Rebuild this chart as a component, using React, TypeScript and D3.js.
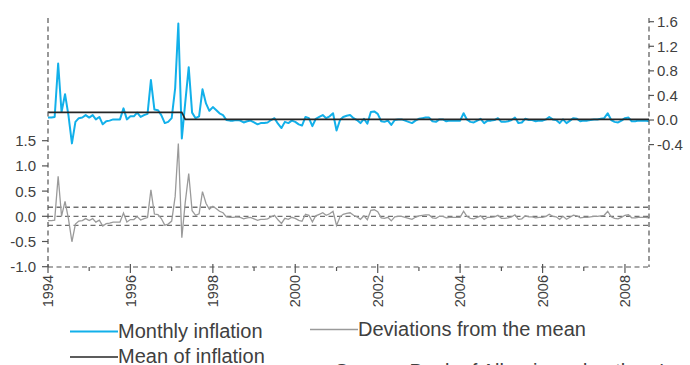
import React from "react";
import * as d3 from "d3";

// Monthly inflation (%), Jan 1994 onward (right axis)
const monthlyInflation: number[] = [
  0.04, 0.04, 0.05, 0.92, 0.13, 0.42, 0.08, -0.38, -0.03, 0.03,
  0.04, 0.08, 0.04, 0.08, 0.01, 0.05, -0.07, -0.02, -0.01, 0.01,
  0.01, 0.01, 0.19, 0.01, 0.06, 0.06, 0.12, 0.05, 0.08, 0.1,
  0.65, 0.17, 0.16, 0.08, -0.05, -0.03, 0.03, 0.52, 1.57, -0.3,
  0.28, 0.86, 0.12, 0.03, 0.06, 0.5, 0.27, 0.15, 0.21, 0.16,
  0.11, 0.08, 0.0, -0.01, -0.01, 0.0, -0.01, -0.04, -0.02, -0.01,
  -0.04, -0.07, -0.05, -0.05, -0.04, 0.0, 0.03, -0.06, -0.13, -0.03,
  -0.05, -0.01, -0.03, -0.07, -0.09, 0.05, 0.03, -0.1, 0.02, 0.05,
  0.08, 0.03, 0.06, 0.11, -0.17, 0.0, 0.05, 0.07, 0.08, 0.03,
  0.0, -0.05, 0.02, -0.06, 0.13, 0.14, 0.1, -0.02, -0.03, -0.01,
  -0.08, 0.0, 0.01, 0.01, -0.01, -0.03, -0.05, -0.01, 0.02, 0.03,
  0.04, 0.04, -0.02, -0.03, 0.01, 0.01, -0.02, -0.01, -0.01, -0.01,
  -0.01, 0.11, 0.01, -0.03, -0.04, -0.01, 0.02, -0.05, -0.01, -0.01,
  0.0, 0.03, -0.03, -0.03, -0.02, 0.0, 0.04, -0.05, -0.04, 0.02,
  0.0, 0.0, -0.02, -0.01, -0.01, 0.01, 0.05, 0.01, 0.0, -0.05,
  0.01, -0.05, -0.01, 0.03, 0.02, -0.02, -0.01, -0.01, 0.0, 0.01,
  0.01, 0.02, 0.03, 0.11, 0.0, -0.03, -0.04, -0.01, 0.03, 0.04,
  -0.02, -0.02, -0.01, -0.01, -0.01, -0.02,
];

// Mean of inflation: two regimes (before / after the break month)
const meanLevels: number[] = [0.125, 0.01];
const meanBreakMonth = 40; // index of first month of the second regime

// Dashed reference levels on the deviations panel (left axis)
const deviationBandLevels: number[] = [-0.18, 0, 0.18];

const leftTicks: number[] = [-1, -0.5, 0, 0.5, 1, 1.5];
const rightTicks: number[] = [-0.4, 0, 0.4, 0.8, 1.2, 1.6];
const yearTicks: number[] = [1994, 1996, 1998, 2000, 2002, 2004, 2006, 2008];
const minorYearTicks: number[] = [1995, 1997, 1999, 2001, 2003, 2005, 2007];

const legendItems = [
  { label: "Monthly inflation", key: "infl" },
  { label: "Deviations from the mean", key: "dev" },
  { label: "Mean of inflation", key: "mean" },
];
const sourceNote = "Source: Bank of Albania and authors' calculations";

const BLUE = "#12b0ea";
const GRAY = "#9a9a9a";
const BLACK = "#262626";
const AXIS = "#555";
const TEXT = "#404040";
const FONT = "'Liberation Sans', Arial, sans-serif";

const fmt = (v: number) => d3.format(".1f")(v).replace("\u2212", "-");

export default function App() {
  const W = 690;
  const H = 365;
  const x0 = 48;
  const x1 = 649;
  const yTop = 18;
  const yBottom = 267;

  const dates = monthlyInflation.map((_, i) => new Date(1994, i, 1));
  const meanSeries = monthlyInflation.map((_, i) =>
    i < meanBreakMonth ? meanLevels[0] : meanLevels[1]
  );
  const deviations = monthlyInflation.map((v, i) => v - meanSeries[i]);

  const x = d3
    .scaleTime()
    .domain([new Date(1994, 0, 1), new Date(1994, monthlyInflation.length - 1, 1)])
    .range([x0, x1]);
  const yLeft = d3.scaleLinear().domain([-1, 1.5]).range([266.7, 140.7]);
  const yRight = d3.scaleLinear().domain([-0.4, 1.6]).range([144.6, 21.7]);

  const inflLine = d3
    .line<number>()
    .x((_, i) => x(dates[i]))
    .y((d) => yRight(d));
  const devLine = d3
    .line<number>()
    .x((_, i) => x(dates[i]))
    .y((d) => yLeft(d));

  const dash = "5,3.5";

  return (
    <svg
      width={W}
      height={H}
      style={{ position: "absolute", left: 0, top: 0, background: "#fff" }}
      fontFamily={FONT}
    >
      {deviationBandLevels.map((v) => (
        <line
          key={v}
          x1={x0}
          x2={x1}
          y1={yLeft(v)}
          y2={yLeft(v)}
          stroke="#707070"
          strokeWidth={1.3}
          strokeDasharray={dash}
        />
      ))}

      <path d={devLine(deviations) || ""} fill="none" stroke={GRAY} strokeWidth={1.3} />

      <path d={inflLine(monthlyInflation) || ""} fill="none" stroke={BLUE} strokeWidth={2} strokeLinejoin="round" />
      <path d={inflLine(meanSeries) || ""} fill="none" stroke={BLACK} strokeWidth={1.6} />

      <line x1={x0} x2={x0} y1={yTop} y2={yBottom} stroke={AXIS} strokeWidth={1.2} strokeDasharray={dash} />
      <line x1={x1} x2={x1} y1={yTop} y2={yBottom} stroke={AXIS} strokeWidth={1.2} strokeDasharray={dash} />
      <line x1={x0} x2={x1} y1={yBottom} y2={yBottom} stroke={AXIS} strokeWidth={1.2} strokeDasharray={dash} />

      {leftTicks.map((t) => (
        <g key={t}>
          <line x1={x0 - 6} x2={x0} y1={yLeft(t)} y2={yLeft(t)} stroke={AXIS} strokeWidth={1.2} />
          <text x={x0 - 12} y={yLeft(t)} dy="0.36em" textAnchor="end" fontSize={15} fill={TEXT}>
            {fmt(t)}
          </text>
        </g>
      ))}

      {rightTicks.map((t) => (
        <g key={t}>
          <line x1={x1} x2={x1 + 5} y1={yRight(t)} y2={yRight(t)} stroke={AXIS} strokeWidth={1.2} />
          <text x={x1 + 8} y={yRight(t)} dy="0.36em" textAnchor="start" fontSize={15} fill={TEXT}>
            {fmt(t)}
          </text>
        </g>
      ))}

      {minorYearTicks.map((yr) => {
        const px = x(new Date(yr, 0, 1));
        return <line key={yr} x1={px} x2={px} y1={yBottom} y2={yBottom + 4} stroke={AXIS} strokeWidth={1.2} />;
      })}
      {yearTicks.map((yr) => {
        const px = x(new Date(yr, 0, 1));
        return (
          <g key={yr}>
            <line x1={px} x2={px} y1={yBottom - 3} y2={yBottom + 6} stroke={AXIS} strokeWidth={1.2} />
            <text
              transform={`translate(${px},${yBottom + 8}) rotate(-90)`}
              dy="0.36em"
              textAnchor="end"
              fontSize={14.5}
              fill={TEXT}
            >
              {yr}
            </text>
          </g>
        );
      })}

      <line x1={70} x2={118} y1={331.5} y2={331.5} stroke={BLUE} strokeWidth={2} />
      <text x={118} y={338} fontSize={20} fill={TEXT}>{legendItems[0].label}</text>
      <line x1={310} x2={358} y1={329.5} y2={329.5} stroke={GRAY} strokeWidth={1.6} />
      <text x={358} y={336} fontSize={20} fill={TEXT}>{legendItems[1].label}</text>
      <line x1={70} x2={118} y1={357} y2={357} stroke={BLACK} strokeWidth={1.6} />
      <text x={118} y={363} fontSize={20} fill={TEXT}>{legendItems[2].label}</text>

      <text x={335} y={378} fontSize={20} fill={TEXT}>{sourceNote}</text>
    </svg>
  );
}
